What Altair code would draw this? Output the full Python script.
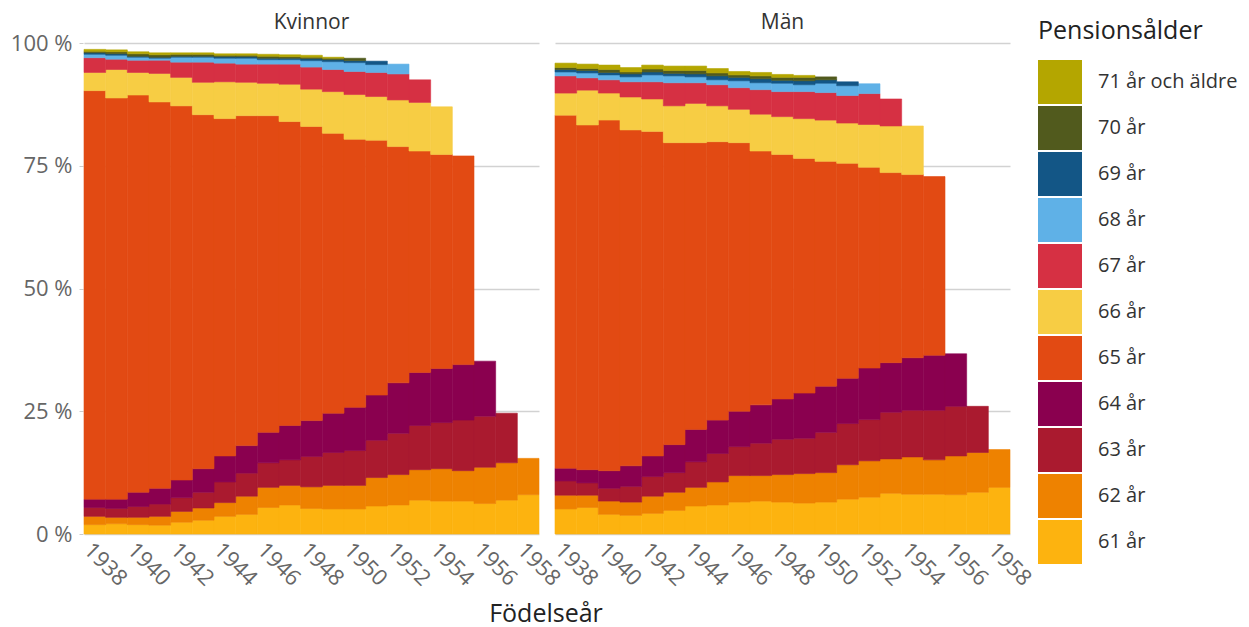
import altair as alt
import pandas as pd

years = list(range(1938, 1959))
ages = ["61 år", "62 år", "63 år", "64 år", "65 år", "66 år", "67 år",
        "68 år", "69 år", "70 år", "71 år och äldre"]
colors = ["#fdb30f", "#ee8200", "#aa1a2f", "#8a004f", "#e24a13", "#f7cd44",
          "#d63043", "#5fb1e7", "#135686", "#515a1d", "#b4a600"]
sexes = ["Kvinnor", "Män"]

N = None
# Share (%) per retirement age, birth years 1938..1958
kvinnor = {
    "61 år": [1.9, 2.1, 1.9, 1.8, 2.4, 2.8, 3.6, 4.0, 5.4, 5.9, 5.2, 5.1, 5.1, 5.7, 5.9, 6.9, 6.7, 6.7, 6.2, 6.9, 8.0],
    "62 år": [1.7, 1.3, 1.5, 1.8, 2.2, 2.5, 2.8, 3.7, 4.1, 4.0, 4.4, 4.8, 4.8, 5.8, 6.2, 6.2, 6.6, 6.2, 7.4, 7.6, 7.4],
    "63 år": [1.8, 1.8, 2.2, 2.5, 2.8, 3.2, 4.2, 4.7, 5.0, 5.2, 6.2, 6.7, 7.1, 7.6, 8.4, 9.0, 9.4, 10.3, 10.4, 10.1, N],
    "64 år": [1.7, 1.9, 2.9, 3.2, 3.6, 4.8, 5.3, 5.6, 6.2, 7.0, 7.3, 8.0, 8.8, 9.2, 10.3, 10.8, 11.0, 11.3, 11.2, N, N],
    "65 år": [83.2, 81.7, 80.9, 78.7, 76.2, 72.1, 68.7, 67.2, 64.5, 61.9, 59.9, 57.0, 54.6, 51.9, 48.1, 45.1, 43.6, 42.5, N, N, N],
    "66 år": [3.7, 5.8, 4.6, 5.8, 5.8, 6.6, 7.5, 6.8, 6.6, 7.6, 7.6, 8.5, 9.1, 8.9, 9.5, 9.9, 9.7, N, N, N, N],
    "67 år": [3.0, 2.1, 2.5, 2.7, 3.1, 4.1, 3.8, 3.7, 3.9, 4.1, 4.5, 4.5, 4.7, 4.9, 5.3, 4.6, N, N, N, N, N],
    "68 år": [0.7, 0.8, 0.6, 0.4, 1.0, 1.0, 1.0, 1.2, 0.9, 0.9, 1.3, 1.6, 1.8, 1.6, 2.0, N, N, N, N, N, N],
    "69 år": [0.3, 0.3, 0.2, 0.2, 0.2, 0.2, 0.3, 0.3, 0.3, 0.3, 0.4, 0.4, 0.4, 0.7, N, N, N, N, N, N, N],
    "70 år": [0.3, 0.4, 0.5, 0.5, 0.4, 0.4, 0.3, 0.3, 0.4, 0.3, 0.3, 0.3, 0.5, N, N, N, N, N, N, N, N],
    "71 år och äldre": [0.4, 0.4, 0.4, 0.4, 0.3, 0.3, 0.3, 0.3, 0.4, 0.4, 0.4, 0.2, N, N, N, N, N, N, N, N, N],
}
man = {
    "61 år": [5.1, 5.4, 4.0, 3.8, 4.2, 4.8, 5.7, 5.9, 6.5, 6.7, 6.5, 6.3, 6.5, 7.1, 7.5, 8.3, 8.1, 8.1, 8.0, 8.5, 9.5],
    "62 år": [2.8, 2.5, 2.7, 2.7, 3.5, 3.7, 3.8, 4.7, 5.4, 5.2, 5.6, 6.0, 6.0, 7.0, 7.4, 7.0, 7.6, 7.0, 7.9, 8.1, 7.7],
    "63 år": [2.9, 2.5, 2.6, 3.2, 4.0, 4.0, 5.2, 5.8, 5.9, 6.6, 7.2, 7.2, 8.2, 8.4, 8.4, 9.5, 9.5, 10.1, 10.1, 9.4, N],
    "64 år": [2.6, 2.7, 3.6, 4.2, 4.2, 5.7, 6.6, 6.8, 7.2, 7.8, 8.2, 9.2, 9.4, 9.2, 10.5, 10.1, 10.7, 11.2, 10.7, N, N],
    "65 år": [71.9, 70.2, 71.4, 68.4, 66.1, 61.5, 58.4, 56.7, 54.7, 51.7, 49.8, 47.8, 45.8, 43.8, 40.9, 38.7, 37.3, 36.4, N, N, N],
    "66 år": [4.5, 7.1, 5.5, 6.7, 6.6, 7.5, 8.0, 7.3, 6.8, 7.5, 7.7, 8.1, 8.4, 8.2, 8.7, 9.5, 9.9, N, N, N, N],
    "67 år": [3.5, 2.5, 2.7, 3.1, 3.5, 4.7, 4.2, 4.3, 4.4, 5.0, 5.1, 5.5, 5.6, 5.6, 6.3, 5.5, N, N, N, N, N],
    "68 år": [0.8, 1.0, 1.0, 1.0, 1.4, 1.4, 1.2, 1.0, 1.4, 1.4, 1.7, 1.4, 1.9, 2.0, 2.0, N, N, N, N, N, N],
    "69 år": [0.5, 0.5, 0.5, 0.6, 0.6, 0.5, 0.6, 0.8, 0.7, 0.8, 0.6, 0.8, 0.7, 0.8, N, N, N, N, N, N, N],
    "70 år": [0.4, 0.4, 0.6, 0.4, 0.6, 0.6, 0.7, 0.6, 0.5, 0.6, 0.6, 0.7, 0.6, N, N, N, N, N, N, N, N],
    "71 år och äldre": [0.9, 0.9, 0.9, 0.9, 0.8, 0.9, 0.9, 0.9, 0.7, 0.7, 0.6, 0.4, N, N, N, N, N, N, N, N, N],
}

rows = []
for sex, table in zip(sexes, [kvinnor, man]):
    for i, age in enumerate(ages):
        for year, v in zip(years, table[age]):
            if v is not None:
                rows.append({"sex": sex, "year": year, "age": age, "ord": i, "share": v})
df = pd.DataFrame(rows)

FONT = "Open Sans"
age_scale = alt.Scale(domain=ages[::-1], range=colors[::-1])

bars = alt.Chart(df).mark_bar(strokeWidth=0.6).encode(
    x=alt.X("year:O", title=None,
            scale=alt.Scale(domain=years, paddingInner=0, paddingOuter=0),
            axis=alt.Axis(values=list(range(1938, 1959, 2)), labelAngle=45,
                          labelFontSize=22, labelColor="#666", labelFont=FONT,
                          ticks=False, domain=False, grid=False, labelPadding=4)),
    y=alt.Y("share:Q", stack="zero", title=None,
            scale=alt.Scale(domain=[0, 100], nice=False),
            axis=alt.Axis(values=[0, 25, 50, 75, 100], labelExpr="datum.value + ' %'",
                          labelFontSize=22, labelColor="#666", labelFont=FONT,
                          tickColor="#cccccc", tickSize=4, labelPadding=7,
                          domain=False, grid=True, gridColor="#d2d2d2", gridWidth=1.5)),
    color=alt.Color("age:N", scale=age_scale,
                    legend=alt.Legend(title="Pensionsålder", orient="none",
                                      legendX=954, legendY=-24,
                                      symbolType="square",
                                      symbolSize=1936, symbolStrokeWidth=0,
                                      symbolOpacity=1, labelFontSize=20,
                                      labelColor="#333", labelFont=FONT,
                                      titleFontSize=25, titleFontWeight="normal",
                                      titleColor="#222", titleFont=FONT,
                                      titlePadding=16, labelOffset=16,
                                      rowPadding=2)),
    stroke=alt.Stroke("age:N", scale=age_scale, legend=None),
    order=alt.Order("ord:Q"),
).properties(width=455, height=491)

chart = bars.facet(
    column=alt.Column("sex:N", sort=sexes, title=None,
                      header=alt.Header(labelFontSize=21, labelColor="#333",
                                        labelFont=FONT, labelPadding=10)),
    spacing=14,
).properties(
    title=alt.TitleParams("Födelseår", orient="bottom", anchor="middle",
                          frame="group", dx=462, fontSize=25, fontWeight="normal",
                          color="#222", font=FONT, offset=13),
    padding={"left": 2, "top": 4, "right": 2, "bottom": 0},
).configure_view(strokeWidth=0)

chart.save("out.html", embed_options={"renderer": "svg", "actions": False})
